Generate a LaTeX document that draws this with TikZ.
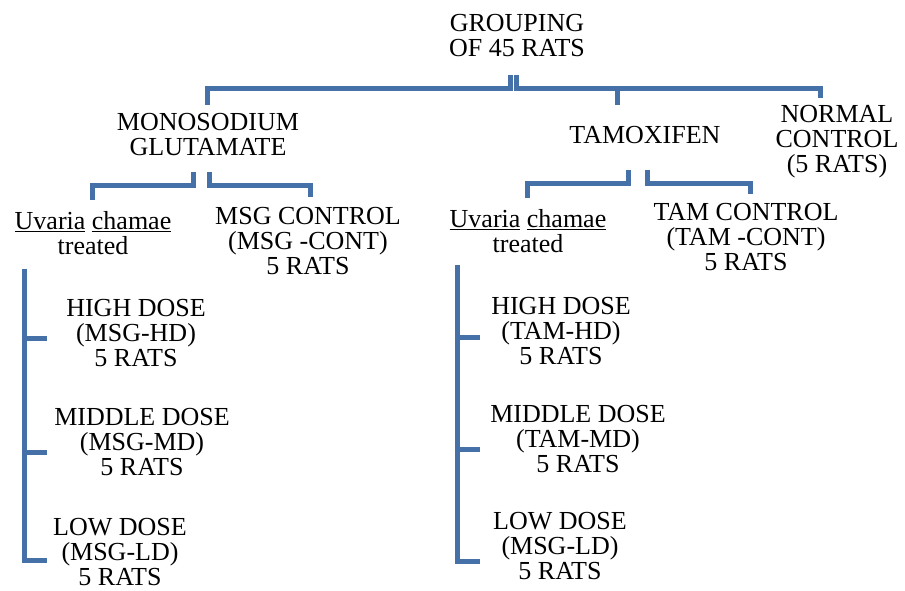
\documentclass[tikz,border=0pt]{standalone}
\usepackage{fontspec}
\setmainfont{Liberation Serif}
\definecolor{lc}{RGB}{70,112,168}
\begin{document}
\begin{tikzpicture}[x=1pt,y=-1pt,
  lbl/.style={align=center,inner sep=0pt,font=\fontsize{26}{25}\selectfont},
  conn/.style={draw=lc,line width=5pt}]
\useasboundingbox (0,0) rectangle (905,590);
% nodes
\node[lbl] (root) at (517,36) {GROUPING\\OF 45 RATS};
\node[lbl] (msg) at (208,135) {MONOSODIUM\\GLUTAMATE};
\node[lbl] (tam) at (645,135) {TAMOXIFEN};
\node[lbl] (nc) at (837,142) {NORMAL\\CONTROL\\(5 RATS)};
\node[lbl] (ucm) at (93,233) {\underline{Uvaria} \underline{chamae}\\treated};
\node[lbl] (mc) at (308,241) {MSG CONTROL\\(MSG -CONT)\\5 RATS};
\node[lbl] (uct) at (528,231) {\underline{Uvaria} \underline{chamae}\\treated};
\node[lbl] (tc) at (746,237) {TAM CONTROL\\(TAM -CONT)\\5 RATS};
\node[lbl] (mhd) at (136,333) {HIGH DOSE\\(MSG-HD)\\5 RATS};
\node[lbl] (mmd) at (142,442) {MIDDLE DOSE\\(MSG-MD)\\5 RATS};
\node[lbl] (mld) at (120,552) {LOW DOSE\\(MSG-LD)\\5 RATS};
\node[lbl] (thd) at (561,331) {HIGH DOSE\\(TAM-HD)\\5 RATS};
\node[lbl] (tmd) at (578,439) {MIDDLE DOSE\\(TAM-MD)\\5 RATS};
\node[lbl] (tld) at (560,546) {LOW DOSE\\(MSG-LD)\\5 RATS};
\coordinate (mx) at (47,0);
\coordinate (tx) at (480,0);
% level 1
\draw[conn] ([xshift=-7pt,yshift=-18pt]root.south) -- ++(0,13) -| ([xshift=-1pt,yshift=9pt]msg.north);
\draw[conn] ([xshift=-1pt,yshift=-18pt]root.south) -- ++(0,13) -| ([xshift=-17pt,yshift=7pt]nc.north);
\draw[conn] ([xshift=-28pt,yshift=21pt]tam.north) -- ++(0,-17);
% level 2
\draw[conn] ([xshift=-15pt,yshift=-16pt]msg.south) -- ++(0,13) -| ([xshift=-1pt,yshift=11pt]ucm.north);
\draw[conn] ([xshift=1pt,yshift=-16pt]msg.south) -- ++(0,13) -| ([xshift=2pt,yshift=10pt]mc.north);
\draw[conn] ([xshift=-17pt,yshift=-26pt]tam.south) -- ++(0,14) -| ([xshift=-1pt,yshift=11pt]uct.north);
\draw[conn] ([xshift=2pt,yshift=-26pt]tam.south) -- ++(0,14) -| ([xshift=4pt,yshift=9pt]tc.north);
% level 3
\coordinate (mtop) at ([xshift=-69pt,yshift=-14pt]ucm.south);
\coordinate (ttop) at ([xshift=-71pt,yshift=-12pt]uct.south);
\draw[conn] (mtop) |- ([yshift=-5pt]mhd.center -| mx);
\draw[conn] (mtop) |- ([yshift=-10pt]mmd.center -| mx);
\draw[conn] (mtop) |- ([yshift=-8pt]mld.center -| mx);
\draw[conn] (ttop) |- ([yshift=-6pt]thd.center -| tx);
\draw[conn] (ttop) |- ([yshift=-10pt]tmd.center -| tx);
\draw[conn] (ttop) |- ([yshift=-15pt]tld.center -| tx);
\end{tikzpicture}
\end{document}
